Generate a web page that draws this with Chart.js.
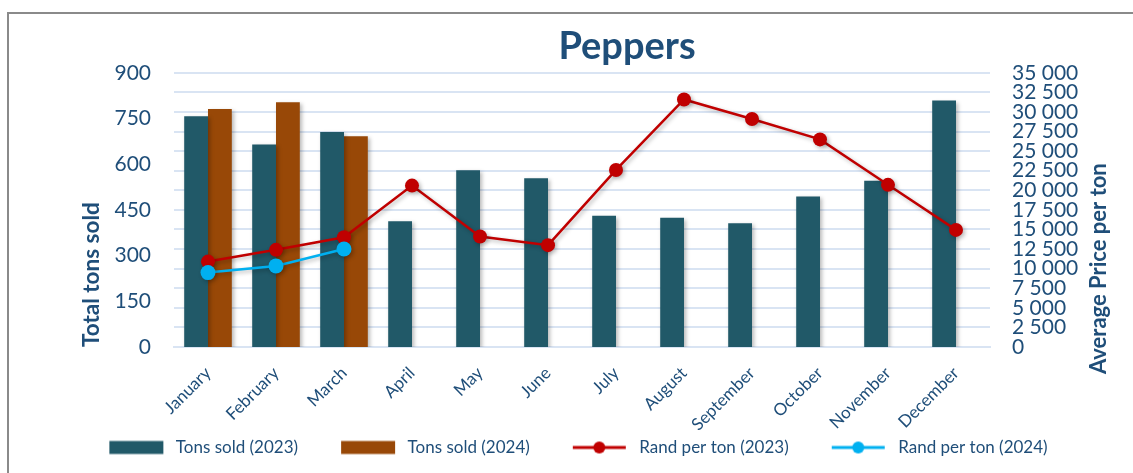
<!DOCTYPE html>
<html>
<head>
<meta charset="utf-8">
<script src="https://cdn.jsdelivr.net/npm/chart.js@4/dist/chart.umd.min.js"></script>
<style>
html,body{margin:0;padding:0;background:#fff;overflow:hidden;}
#wrap{position:relative;width:1133px;height:473px;overflow:hidden;}
#frame{position:absolute;left:7px;top:12px;width:1300px;height:600px;border:2px solid #8a8a8a;}
#c{position:absolute;left:0;top:0;}
</style>
</head>
<body>
<div id="wrap"><div id="frame"></div><canvas id="c" width="1133" height="473"></canvas></div>
<script>
// ---- data ----
const chartTitle = 'Peppers';
const months = ['January','February','March','April','May','June','July','August','September','October','November','December'];
const tons2023 = [757, 665, 706, 413, 580, 554, 431, 424, 406, 494, 546, 809];
const tons2024 = [781, 803, 692, null, null, null, null, null, null, null, null, null];
const rand2023 = [10900, 12400, 14000, 20600, 14100, 13000, 22600, 31600, 29100, 26500, 20700, 14950];
const rand2024 = [9500, 10350, 12500, null, null, null, null, null, null, null, null, null];
const seriesNames = ['Tons sold (2023)', 'Tons sold (2024)', 'Rand per ton (2023)', 'Rand per ton (2024)'];
const leftAxisTitle = 'Total tons sold';
const rightAxisTitle = 'Average Price per ton';
const leftTicks = {min: 0, max: 900, step: 150};
const rightTicks = {min: 0, max: 35000, step: 2500};

// ---- styles ----
const TEXT = '#1f4e79';
const C23 = '#215968';
const C24 = '#984807';
const R23 = '#c00000';
const R24 = '#00b0f0';
const GRID = '#d9e4f3';
Chart.defaults.font.family = 'Lato';

const LEAD = 40;
function boxImg(color){
  const c = document.createElement('canvas'); c.width = LEAD + 58; c.height = 16;
  const x = c.getContext('2d'); x.fillStyle = color; x.fillRect(LEAD, 1.5, 54, 13);
  return c;
}
function lineImg(color){
  const c = document.createElement('canvas'); c.width = LEAD + 58; c.height = 16;
  const x = c.getContext('2d');
  x.strokeStyle = color; x.lineWidth = 3; x.beginPath(); x.moveTo(LEAD, 8); x.lineTo(LEAD + 53, 8); x.stroke();
  x.fillStyle = color; x.beginPath(); x.arc(LEAD + 26.5, 8, 6, 0, Math.PI*2); x.fill();
  return c;
}
const legendImgs = [boxImg(C23), boxImg(C24), lineImg(R23), lineImg(R24)];

const fmt = v => String(v).replace(/\B(?=(\d{3})+(?!\d))/g, ' ');

const shadowPlugin = {
  id: 'shadow',
  beforeDatasetDraw(chart){ const ctx = chart.ctx; ctx.save(); ctx.shadowColor = 'rgba(0,0,0,0.28)'; ctx.shadowBlur = 4; ctx.shadowOffsetX = 2; ctx.shadowOffsetY = 2; },
  afterDatasetDraw(chart){ chart.ctx.restore(); }
};
const titleShift = {
  id: 'titleShift',
  afterLayout(chart){ if (chart.titleBlock){ chart.titleBlock.left = 627 - 250; chart.titleBlock.right = 627 + 250; } }
};
const rightTitle = {
  id: 'rightTitle',
  afterDraw(chart){
    const ctx = chart.ctx; ctx.save();
    ctx.translate(1099, 374); ctx.rotate(-Math.PI/2);
    ctx.font = 'bold 22px Lato'; ctx.fillStyle = TEXT; ctx.textAlign = 'left'; ctx.textBaseline = 'middle';
    ctx.fillText(rightAxisTitle, 0, 0); ctx.restore();
  }
};

new Chart(document.getElementById('c'), {
  type: 'bar',
  data: {
    labels: months,
    datasets: [
      {label: seriesNames[0], data: tons2023, backgroundColor: C23, yAxisID: 'y', order: 2, categoryPercentage: 0.7, barPercentage: 1.0},
      {label: seriesNames[1], data: tons2024, backgroundColor: C24, yAxisID: 'y', order: 2, categoryPercentage: 0.7, barPercentage: 1.0},
      {type: 'line', label: seriesNames[2], data: rand2023, borderColor: R23, backgroundColor: R23, borderWidth: 2.5, pointRadius: 7, pointHoverRadius: 7, pointBorderWidth: 0, yAxisID: 'y1', order: 1},
      {type: 'line', label: seriesNames[3], data: rand2024, borderColor: R24, backgroundColor: R24, borderWidth: 2.5, pointRadius: 7.5, pointHoverRadius: 7.5, pointBorderWidth: 0, yAxisID: 'y1', order: 0}
    ]
  },
  options: {
    responsive: false,
    animation: false,
    layout: {padding: {top: 8, left: 0, right: 16, bottom: 7}},
    plugins: {
      tooltip: {enabled: false},
      title: {display: true, text: chartTitle, color: TEXT, font: {size: 38, weight: 'bold', lineHeight: 1.1}, padding: {top: 18, bottom: 5}},
      legend: {
        position: 'bottom',
        align: 'center',
        labels: {
          usePointStyle: true, pointStyleWidth: LEAD + 58, boxHeight: 14, padding: 3,
          color: TEXT, font: {size: 17},
          generateLabels: (chart) => chart.data.datasets.map((d, i) => ({
            text: d.label, pointStyle: legendImgs[i], fillStyle: 'transparent', strokeStyle: 'transparent',
            lineWidth: 0, fontColor: TEXT, datasetIndex: i, hidden: false
          }))
        }
      }
    },
    scales: {
      x: {
        grid: {display: false, drawTicks: false},
        border: {display: true, color: GRID, width: 2},
        ticks: {color: TEXT, font: {size: 17}, minRotation: 45, maxRotation: 45, padding: 16, autoSkip: false},
        afterFit(s){ s.height = 89; }
      },
      y: {
        position: 'left', min: leftTicks.min, max: leftTicks.max,
        grid: {display: false, drawTicks: false},
        border: {display: false},
        ticks: {stepSize: leftTicks.step, color: TEXT, font: {size: 21}, padding: 23, autoSkip: false},
        title: {display: true, text: leftAxisTitle, color: TEXT, font: {size: 22.5, weight: 'bold'}, align: 'start', padding: {top: 78, bottom: 0}},
        afterFit(s){ s.width = 174; }
      },
      y1: {
        position: 'right', min: rightTicks.min, max: rightTicks.max,
        grid: {color: GRID, lineWidth: 2, drawTicks: false},
        border: {display: false},
        ticks: {stepSize: rightTicks.step, color: TEXT, font: {size: 21}, padding: 22, autoSkip: false, callback: v => fmt(v)},
        afterFit(s){ s.width = 127; }
      }
    }
  },
  plugins: [shadowPlugin, titleShift, rightTitle]
});
</script>
</body>
</html>
